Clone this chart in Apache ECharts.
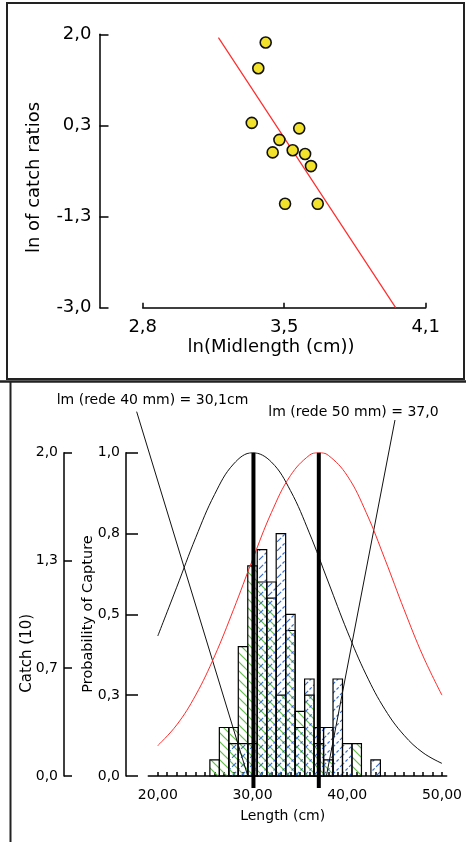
<!DOCTYPE html>
<html>
<head>
<meta charset="utf-8">
<script src="https://cdn.jsdelivr.net/npm/echarts@6/dist/echarts.min.js"></script>
<style>
  html, body { margin: 0; padding: 0; background: #fff; }
  #chart { width: 466px; height: 842px; }
</style>
</head>
<body>
<div id="chart"></div>
<script>
// ---- Upper panel: ln catch ratio against ln midlength ----
const lnMidlength = [3.365, 3.331, 3.301, 3.519, 3.428, 3.397, 3.489, 3.546, 3.573, 3.454, 3.604];
const lnCatchRatio = [1.85, 1.38, 0.38, 0.28, 0.07, -0.16, -0.12, -0.19, -0.41, -1.10, -1.10];
const fitLnLength = [3.148, 3.962];
const fitLnRatio = [1.939, -3.0];
const lnRatioTicks = [-3, -3 + 5 / 3, -3 + 10 / 3, 2];
const lnRatioTickLabels = ['-3,0', '-1,3', '0,3', '2,0'];
const lnLengthTicks = [2.8, 3.45, 4.1];
const lnLengthTickLabels = ['2,8', '3,5', '4,1'];

// ---- Lower panel: length classes, catches and selection curves ----
const lengthClasses = [26, 27, 28, 29, 30, 31, 32, 33, 34, 35, 36, 37, 38, 39, 40, 41, 42, 43];
const catchMesh40 = [0.1, 0.3, 0.3, 0.8, 1.3, 1.2, 1.1, 0.5, 0.9, 0.4, 0.5, 0.2, 0.1, 0, 0, 0.2, 0, 0];
const catchMesh50 = [0, 0, 0.2, 0.2, 0.2, 1.4, 1.2, 1.5, 1.0, 0.3, 0.6, 0.3, 0.3, 0.6, 0.2, 0, 0, 0.1];
const curve40Length = [20, 22, 24, 26, 28, 30, 32, 34, 36, 38, 40, 42, 44, 46, 48, 50];
const curve40Prob = [0.433, 0.584, 0.737, 0.871, 0.965, 1.0, 0.971, 0.883, 0.752, 0.600, 0.448, 0.313, 0.205, 0.126, 0.072, 0.039];
const curve50Length = [20, 22, 24, 26, 28, 30, 32, 34, 36, 37, 38, 40, 42, 44, 46, 48, 50];
const curve50Prob = [0.094, 0.158, 0.250, 0.371, 0.515, 0.669, 0.815, 0.929, 0.992, 1.0, 0.992, 0.929, 0.815, 0.669, 0.515, 0.371, 0.250];
const lmValues = [30.1, 37.0];
const lmLabels = ['lm (rede 40 mm) = 30,1cm', 'lm (rede 50 mm) = 37,0'];
// pointer lines from each label down to the length axis: [x0, y0, x1, y1]
const lmPointers = [[17.77, 1.127, 29.5, 0], [45.04, 1.101, 37.8, 0]];
const catchTicks = [0, 2 / 3, 4 / 3, 2];
const catchTickLabels = ['0,0', '0,7', '1,3', '2,0'];
const probTicks = [0, 0.25, 0.5, 0.75, 1];
const probTickLabels = ['0,0', '0,3', '0,5', '0,8', '1,0'];
const lengthTicks = [20, 30, 40, 50];
const lengthTickLabels = ['20,00', '30,00', '40,00', '50,00'];
const lengthMinorTicks = [];
for (let v = 20; v <= 50; v++) lengthMinorTicks.push(v);

const FONT = '"DejaVu Sans", Verdana, sans-serif';

function labelFor(ticks, labels) {
  return function (v) {
    const i = ticks.findIndex(t => Math.abs(t - v) < 1e-6);
    return i >= 0 ? labels[i] : '';
  };
}

// Diagonal hatch tiles for the two catch histograms
function hatchTile(color, rising, dashed) {
  const s = 9;
  const c = document.createElement('canvas');
  c.width = s; c.height = s;
  const g = c.getContext('2d');
  g.strokeStyle = color;
  g.lineWidth = 1.2;
  if (dashed) g.setLineDash([3, 2]);
  g.beginPath();
  if (rising) {
    g.moveTo(0, s); g.lineTo(s, 0);
    g.moveTo(-1, 1); g.lineTo(1, -1);
    g.moveTo(s - 1, s + 1); g.lineTo(s + 1, s - 1);
  } else {
    g.moveTo(0, 0); g.lineTo(s, s);
    g.moveTo(-1, s - 1); g.lineTo(1, s + 1);
    g.moveTo(s - 1, -1); g.lineTo(s + 1, 1);
  }
  g.stroke();
  return c;
}
const greenHatch = { image: hatchTile('#64bb4c', false, false), repeat: 'repeat' };
const blueHatch = { image: hatchTile('#3a6cc8', true, true), repeat: 'repeat' };

function histogramRenderer(pattern) {
  return function (params, api) {
    const x = api.value(0), v = api.value(1);
    if (!v) return null;
    const p0 = api.coord([x - 0.5, v]);
    const p1 = api.coord([x + 0.5, 0]);
    return {
      type: 'rect',
      shape: { x: p0[0], y: p0[1], width: p1[0] - p0[0], height: p1[1] - p0[1] },
      style: { fill: pattern, stroke: '#000', lineWidth: 1.2 }
    };
  };
}

const axisLineStyle = { show: true, onZero: false, lineStyle: { color: '#000', width: 1.5 } };
const tickStyle = { color: '#000', width: 1.5 };

const chart = echarts.init(document.getElementById('chart'), null, { renderer: 'canvas' });

const option = {
  backgroundColor: '#fff',
  animation: false,
  textStyle: { fontFamily: FONT },
  grid: [
    { left: 142.7, top: 34.3, width: 283, height: 273.4, outerBoundsMode: 'none', containLabel: false },
    { left: 148.3, top: 452.7, width: 298.4, height: 323.3, outerBoundsMode: 'none', containLabel: false }
  ],
  xAxis: [
    {
      type: 'value', gridIndex: 0, min: 2.8, max: 4.1, position: 'bottom',
      axisLine: axisLineStyle,
      axisTick: { show: true, inside: true, length: 5, lineStyle: tickStyle, customValues: lnLengthTicks },
      axisLabel: { customValues: lnLengthTicks, formatter: labelFor(lnLengthTicks, lnLengthTickLabels),
        color: '#000', fontSize: 18, fontFamily: FONT, margin: 11 },
      splitLine: { show: false }
    },
    {
      type: 'value', gridIndex: 1, min: 19, max: 50.5, position: 'bottom',
      axisLine: axisLineStyle,
      axisTick: { show: true, inside: true, length: 4, lineStyle: tickStyle, customValues: lengthMinorTicks },
      axisLabel: { customValues: lengthTicks, formatter: labelFor(lengthTicks, lengthTickLabels),
        color: '#000', fontSize: 14, fontFamily: FONT, margin: 12 },
      splitLine: { show: false }
    }
  ],
  yAxis: [
    {
      type: 'value', gridIndex: 0, min: -3, max: 2, offset: 43.2, position: 'left',
      axisLine: axisLineStyle,
      axisTick: { show: true, inside: true, length: 9, lineStyle: tickStyle, customValues: lnRatioTicks },
      axisLabel: { customValues: lnRatioTicks, formatter: labelFor(lnRatioTicks, lnRatioTickLabels),
        color: '#000', fontSize: 18, fontFamily: FONT, margin: 8 },
      splitLine: { show: false }
    },
    {
      type: 'value', gridIndex: 1, min: 0, max: 1, offset: 22.3, position: 'left',
      axisLine: axisLineStyle,
      axisTick: { show: true, inside: true, length: 12, lineStyle: tickStyle, customValues: probTicks },
      axisLabel: { customValues: probTicks, formatter: labelFor(probTicks, probTickLabels),
        color: '#000', fontSize: 14, fontFamily: FONT, margin: 6 },
      splitLine: { show: false }
    },
    {
      type: 'value', gridIndex: 1, min: 0, max: 2, offset: 84.3, position: 'left',
      axisLine: axisLineStyle,
      axisTick: { show: true, inside: true, length: 8, lineStyle: tickStyle, customValues: catchTicks },
      axisLabel: { customValues: catchTicks, formatter: labelFor(catchTicks, catchTickLabels),
        color: '#000', fontSize: 14, fontFamily: FONT, margin: 6 },
      splitLine: { show: false }
    }
  ],
  series: [
    {
      type: 'line', xAxisIndex: 0, yAxisIndex: 0, z: 2,
      data: fitLnLength.map((x, i) => [x, fitLnRatio[i]]),
      symbol: 'none', lineStyle: { color: '#ff2a2a', width: 1.2 }
    },
    {
      type: 'scatter', xAxisIndex: 0, yAxisIndex: 0, z: 3,
      data: lnMidlength.map((x, i) => [x, lnCatchRatio[i]]),
      symbol: 'circle', symbolSize: 11,
      itemStyle: { color: '#f3e22c', borderColor: '#111', borderWidth: 1.6, opacity: 1 }
    },
    {
      type: 'custom', xAxisIndex: 1, yAxisIndex: 2, z: 2,
      data: lengthClasses.map((x, i) => [x, catchMesh40[i]]),
      renderItem: histogramRenderer(greenHatch)
    },
    {
      type: 'custom', xAxisIndex: 1, yAxisIndex: 2, z: 2,
      data: lengthClasses.map((x, i) => [x, catchMesh50[i]]),
      renderItem: histogramRenderer(blueHatch)
    },
    {
      type: 'line', xAxisIndex: 1, yAxisIndex: 1, z: 4,
      data: curve40Length.map((x, i) => [x, curve40Prob[i]]),
      smooth: 0.4, symbol: 'none', lineStyle: { color: '#111', width: 1 }
    },
    {
      type: 'line', xAxisIndex: 1, yAxisIndex: 1, z: 4,
      data: curve50Length.map((x, i) => [x, curve50Prob[i]]),
      smooth: 0.4, symbol: 'none', lineStyle: { color: '#ff2a2a', width: 1 }
    },
    {
      type: 'custom', xAxisIndex: 1, yAxisIndex: 1, z: 4, clip: false,
      data: lmPointers,
      renderItem: function (params, api) {
        const a = api.coord([api.value(0), api.value(1)]);
        const b = api.coord([api.value(2), api.value(3)]);
        return {
          type: 'line',
          shape: { x1: a[0], y1: a[1], x2: b[0], y2: b[1] },
          style: { stroke: '#111', lineWidth: 1 }
        };
      }
    },
    {
      type: 'custom', xAxisIndex: 1, yAxisIndex: 1, z: 5,
      data: lmValues.map(v => [v, 1.0]),
      renderItem: function (params, api) {
        const top = api.coord([api.value(0), api.value(1)]);
        const base = api.coord([api.value(0), 0]);
        return {
          type: 'line',
          shape: { x1: top[0], y1: top[1], x2: base[0], y2: base[1] + 12 },
          style: { stroke: '#000', lineWidth: 4 }
        };
      }
    }
  ],
  graphic: [
    // panel frames
    { type: 'rect', shape: { x: 7, y: 3, width: 457, height: 376 },
      style: { fill: null, stroke: '#222', lineWidth: 2 }, z: 10 },
    { type: 'line', shape: { x1: 0, y1: 381.5, x2: 466, y2: 381.5 },
      style: { stroke: '#222', lineWidth: 2.5 }, z: 10 },
    { type: 'line', shape: { x1: 10.5, y1: 381, x2: 10.5, y2: 842 },
      style: { stroke: '#222', lineWidth: 2 }, z: 10 },
    // axis names
    { type: 'text', x: 34, y: 177.5, rotation: Math.PI / 2,
      style: { text: 'ln of catch ratios', fontSize: 18, fontFamily: FONT, fill: '#000', align: 'center', verticalAlign: 'middle' } },
    { type: 'text', x: 271, y: 347,
      style: { text: 'ln(Midlength (cm))', fontSize: 18, fontFamily: FONT, fill: '#000', align: 'center', verticalAlign: 'middle' } },
    { type: 'text', x: 26.7, y: 653.3, rotation: Math.PI / 2,
      style: { text: 'Catch (10)', fontSize: 15, fontFamily: FONT, fill: '#000', align: 'center', verticalAlign: 'middle' } },
    { type: 'text', x: 88.3, y: 614, rotation: Math.PI / 2,
      style: { text: 'Probability of Capture', fontSize: 14.5, fontFamily: FONT, fill: '#000', align: 'center', verticalAlign: 'middle' } },
    { type: 'text', x: 282.7, y: 816.7,
      style: { text: 'Length (cm)', fontSize: 14, fontFamily: FONT, fill: '#000', align: 'center', verticalAlign: 'middle' } },
    // length at maximum selectivity labels
    { type: 'text', x: 56.7, y: 400,
      style: { text: lmLabels[0], fontSize: 14, fontFamily: FONT, fill: '#000', align: 'left', verticalAlign: 'middle' } },
    { type: 'text', x: 268.3, y: 412.3,
      style: { text: lmLabels[1], fontSize: 14, fontFamily: FONT, fill: '#000', align: 'left', verticalAlign: 'middle' } }
  ]
};

chart.setOption(option);
</script>
</body>
</html>
